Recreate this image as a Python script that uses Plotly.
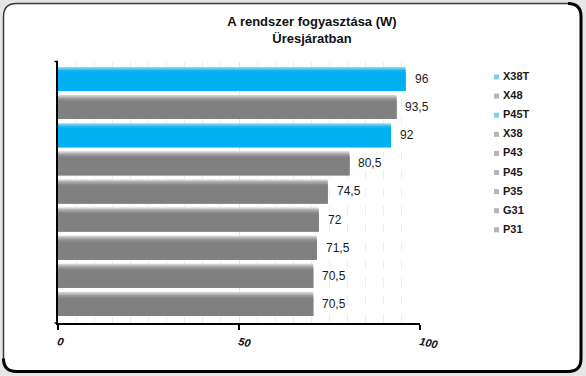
import plotly.graph_objects as go

# ---- data ----
categories = ["X38T", "X48", "P45T", "X38", "P43", "P45", "P35", "G31", "P31"]
values = [96, 93.5, 92, 80.5, 74.5, 72, 71.5, 70.5, 70.5]
x_ticks = [0, 50, 100]
title_line1 = "A rendszer fogyasztása (W)"
title_line2 = "Üresjáratban"

# ---- styles ----
W, H = 586, 376
PL, PR, PT, PB = 58, 420, 62, 323   # plot area in pixels
FONT = "Liberation Sans, Arial, sans-serif"
blue_grad = ["#86d6f5", "#45c4f2", "#18b6f0", "#00b0f0"]
gray_grad = ["#d0d0d0", "#b2b2b2", "#999999", "#888888", "#808080"]
legend_blue = "#80cdec"
legend_gray = "#b4b4b4"
px_per_cat = 28.1
bar_px = 24.0


def fx(px):
    return (px - PL) / (PR - PL)


def fy(py):
    return (PB - py) / (PB - PT)


def is_blue(name):
    return name.endswith("T")


fig = go.Figure()

half = bar_px / px_per_cat / 2
for name, v in zip(categories, values):
    grad = blue_grad if is_blue(name) else gray_grad
    for j, col in enumerate(grad):
        d = j * 1.5 / px_per_cat
        fig.add_trace(go.Bar(
            x=[v], y=[name], orientation="h",
            width=2 * half - d, offset=-half + d,
            marker=dict(color=col, line=dict(width=0)),
            showlegend=False, hoverinfo="skip" if j else "x+y",
            name=name,
        ))
    fig.add_annotation(
        x=v, y=name, xref="x", yref="y",
        text=f"{v:g}".replace(".", ","),
        showarrow=False, xanchor="left", yanchor="middle", xshift=7,
        font=dict(family=FONT, size=12, color="#1a1a1a"),
    )

shapes = []
# rounded frame
L, R, T, B = fx(3.5), fx(581), fy(3.5), fy(371.5)
rx, ry = 13 / (PR - PL), 13 / (PB - PT)
frame = (f"M {L+rx},{T} L {R-rx},{T} Q {R},{T} {R},{T-ry} L {R},{B+ry} "
         f"Q {R},{B} {R-rx},{B} L {L+rx},{B} Q {L},{B} {L},{B+ry} "
         f"L {L},{T-ry} Q {L},{T} {L+rx},{T} Z")
shapes.append(dict(type="path", path=frame, xref="paper", yref="paper",
                   fillcolor="white", line=dict(color="#3a3a3a", width=1.5),
                   layer="below"))
thick = (f"M {R-rx},{T} Q {R},{T} {R},{T-ry} L {R},{B+ry} "
         f"Q {R},{B} {R-rx},{B} L {L+rx},{B} Q {L},{B} {L},{B+ry}")
shapes.append(dict(type="path", path=thick, xref="paper", yref="paper",
                   line=dict(color="#000000", width=3), layer="below"))
# small axis ticks to the left of the value axis
for py in (PT - 0.5, PB):
    shapes.append(dict(type="line", xref="paper", yref="paper",
                       x0=fx(54.5), x1=fx(58), y0=fy(py), y1=fy(py),
                       line=dict(color="black", width=1.5)))

# legend (manual, to match the compact Excel look)
for i, name in enumerate(categories):
    yc = 76 + i * 19.1
    col = legend_blue if is_blue(name) else legend_gray
    shapes.append(dict(type="rect", xref="paper", yref="paper",
                       x0=fx(494), x1=fx(499), y0=fy(yc + 3.5), y1=fy(yc - 1.5),
                       fillcolor=col, line=dict(width=0)))
    fig.add_annotation(x=fx(501), y=fy(yc), xref="paper", yref="paper",
                       text=f"<b>{name}</b>", showarrow=False,
                       xanchor="left", yanchor="middle",
                       font=dict(family=FONT, size=11, color="#1a1a1a"))

fig.update_layout(
    width=W, height=H, autosize=False,
    margin=dict(l=PL, r=W - PR, t=PT, b=H - PB, pad=0),
    paper_bgcolor="#e6e6e6", plot_bgcolor="rgba(0,0,0,0)",
    barmode="overlay", showlegend=False,
    shapes=shapes,
    title=dict(text=f"<b>{title_line1}</b><br><b>{title_line2}</b>",
               x=312 / W, xanchor="center", xref="container",
               y=1 - 26 / H, yanchor="top", yref="container",
               font=dict(family=FONT, size=13, color="#111111")),
    xaxis=dict(range=[0, 100], tickvals=x_ticks, ticktext=[str(t) for t in x_ticks],
               showline=True, linecolor="black", linewidth=1.5,
               ticks="outside", ticklen=5, tickwidth=1.5, tickcolor="black",
               tickangle=12, ticklabelstandoff=2,
               tickfont=dict(family=FONT, size=11, color="#111111",
                             weight="bold", style="italic"),
               showgrid=True, gridcolor="#e6e6e6", gridwidth=1,
               minor=dict(dtick=5, tick0=0, showgrid=True, gridcolor="#ededed",
                          griddash="dash", gridwidth=1),
               zeroline=False, fixedrange=True),
    yaxis=dict(type="category", categoryorder="array", categoryarray=categories,
               range=[8.68, -0.605], showline=True, linecolor="black",
               linewidth=1.5, showticklabels=False, showgrid=False,
               ticks="", zeroline=False, fixedrange=True),
)

fig.write_html("out.html")
